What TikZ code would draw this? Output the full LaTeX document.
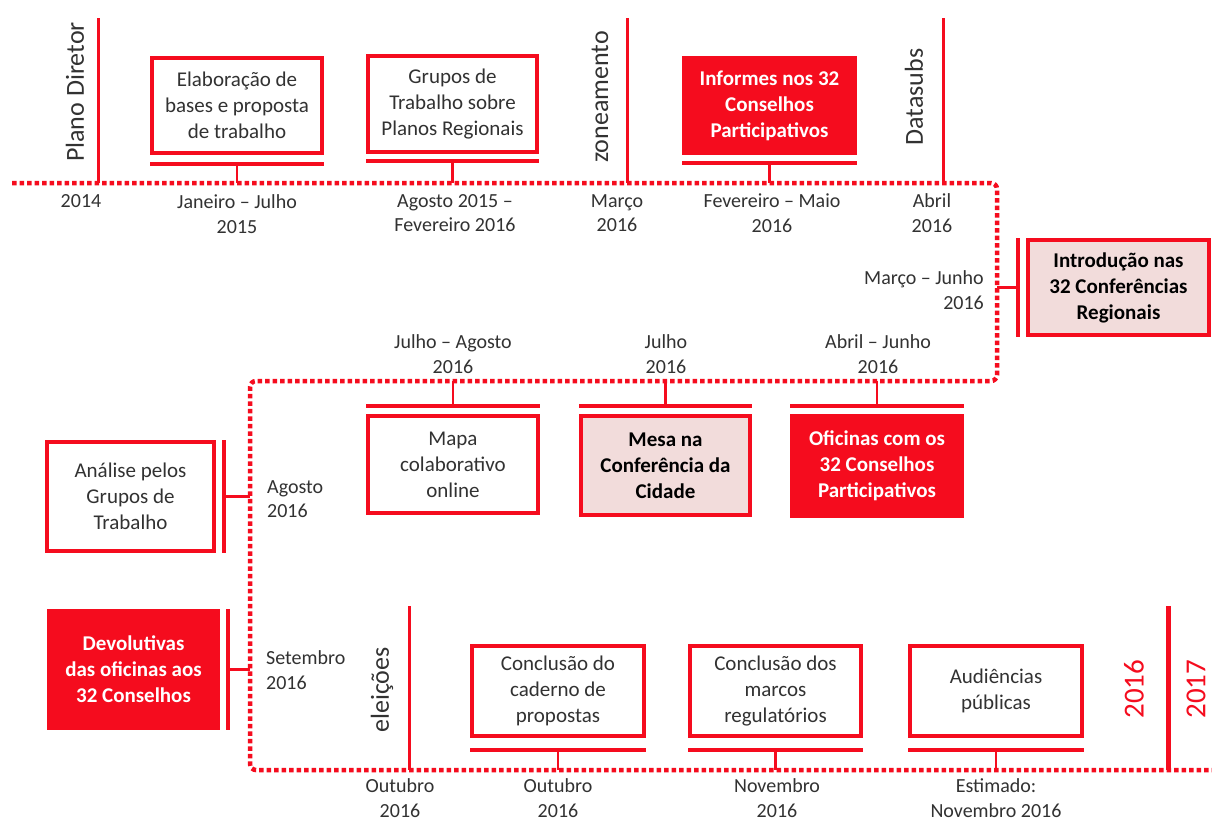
\documentclass[tikz,border=0pt]{standalone}
\usepackage{fontspec}
\setmainfont{Carlito}
\definecolor{tlred}{RGB}{245,12,30}
\definecolor{tlpink}{RGB}{242,220,219}
\definecolor{tlgray}{RGB}{50,50,50}
\usetikzlibrary{positioning,calc}

\begin{document}
\begin{tikzpicture}[x=1pt,y=-1pt,
  box/.style={draw=tlred,line width=3.5pt,minimum width=170pt,minimum height=95pt,inner sep=0pt,
    align=center,text=tlgray,font=\fontsize{21}{26}\selectfont},
  redbox/.style={box,fill=tlred,text=white,font=\fontsize{21}{26}\selectfont\bfseries},
  pinkbox/.style={box,fill=tlpink,text=black,font=\fontsize{21}{26}\selectfont\bfseries},
  datelbl/.style={align=center,text=tlgray,inner sep=0pt,font=\fontsize{20}{24.5}\selectfont},
  vlabel/.style={rotate=90,inner sep=0pt,text=tlgray,font=\fontsize{26}{30}\selectfont},
  yrlbl/.style={rotate=90,inner sep=0pt,text=tlred,font=\fontsize{29}{32}\selectfont},
  timeline/.style={draw=tlred,line width=4.5pt,dash pattern=on 4.5pt off 3pt,rounded corners=6pt},
  evline/.style={draw=tlred,line width=3pt},
  barline/.style={draw=tlred,line width=4pt},
  stemline/.style={draw=tlred,line width=2.2pt}]
  \useasboundingbox[fill=white] (0,0) rectangle (1212,820);

  % dotted time axis
  \coordinate (tlstart) at (12,183);
  \coordinate (tlturnA) at (997,183);
  \coordinate (tlturnB) at (997,381);
  \coordinate (tlturnC) at (250,381);
  \coordinate (tlturnD) at (250,770);
  \coordinate (tlend) at (1214,770);
  \draw[timeline] (tlstart) -- (tlturnA) -- (tlturnB) -- (tlturnC) -- (tlturnD) -- (tlend);

  % top row
  \coordinate (plano) at (98,18);
  \draw[evline] (plano) -- (plano |- tlstart);
  \node[vlabel] (planolbl) at (75,92) {Plano Diretor};
  \node[datelbl] (d2014) at (81,201) {2014};

  \node[box] (bases) at (237,105.5) {Elaboração de\\bases e proposta\\de trabalho};
  \draw[barline] ([yshift=-9pt]bases.south west) -- ([yshift=-9pt]bases.south east);
  \draw[stemline] ([yshift=-9pt]bases.south) -- (bases.south |- tlstart);
  \node[datelbl] (djan) at (bases.south |- 0,214) {Janeiro -- Julho\\2015};

  \node[box,minimum width=169pt,minimum height=96pt] (grupos) at (452.5,104) {Grupos de\\Trabalho sobre\\Planos Regionais};
  \draw[barline] ([yshift=-7pt]grupos.south west) -- ([yshift=-7pt]grupos.south east);
  \draw[stemline] ([yshift=-7pt]grupos.south) -- (grupos.south |- tlstart);
  \node[datelbl] (dago) at (455,213) {Agosto 2015 --\\Fevereiro 2016};

  \coordinate (zone) at (627,18);
  \draw[evline] (zone) -- (zone |- tlstart);
  \node[vlabel] (zonelbl) at (600,97) {zoneamento};
  \node[datelbl] (dmar) at (617,213) {Março\\2016};

  \node[redbox,minimum width=171pt] (informes) at (769.5,105.5) {Informes nos 32\\Conselhos\\Participativos};
  \draw[barline] ([yshift=-8pt]informes.south west) -- ([yshift=-8pt]informes.south east);
  \draw[stemline] ([yshift=-8pt]informes.south) -- (informes.south |- tlstart);
  \node[datelbl] (dfev) at (772,213) {Fevereiro -- Maio\\2016};

  \coordinate (datas) at (943,18);
  \draw[evline] (datas) -- (datas |- tlstart);
  \node[vlabel] (dataslbl) at (914,97) {Datasubs};
  \node[datelbl] (dabr) at (932,213) {Abril\\2016};

  % right side
  \node[pinkbox,minimum width=181pt] (intro) at (1118.5,287.5) {Introdução nas\\32 Conferências\\Regionais};
  \draw[barline] ([xshift=-8pt]intro.north west) -- ([xshift=-8pt]intro.south west);
  \draw[stemline] ([xshift=-8pt]intro.west) -- (intro.west -| tlturnA);
  \node[datelbl,align=right,anchor=east] (dmarjun) at (984,290) {Março -- Junho\\2016};

  % middle row
  \node[box,minimum height=97pt] (mapa) at (453,464.5) {Mapa\\colaborativo\\online};
  \draw[barline] ([yshift=8pt]mapa.north west) -- ([yshift=8pt]mapa.north east);
  \draw[stemline] ([yshift=8pt]mapa.north) -- (mapa.north |- tlturnB);
  \node[datelbl] (djulago) at (453,354) {Julho -- Agosto\\2016};

  \node[pinkbox,minimum width=169pt,minimum height=99pt] (mesa) at (665.5,465.5) {Mesa na\\Conferência da\\Cidade};
  \draw[barline] ([yshift=8pt]mesa.north west) -- ([yshift=8pt]mesa.north east);
  \draw[stemline] ([yshift=8pt]mesa.north) -- (mesa.north |- tlturnB);
  \node[datelbl] (djul) at (666,354) {Julho\\2016};

  \node[redbox,minimum height=100pt] (oficinas) at (877,466) {Oficinas com os\\32 Conselhos\\Participativos};
  \draw[barline] ([yshift=8pt]oficinas.north west) -- ([yshift=8pt]oficinas.north east);
  \draw[stemline] ([yshift=8pt]oficinas.north) -- (oficinas.north |- tlturnB);
  \node[datelbl] (dabrjun) at (878,354) {Abril -- Junho\\2016};

  % left side
  \node[box,minimum width=167pt,minimum height=109pt] (analise) at (130.5,496.5) {Análise pelos\\Grupos de\\Trabalho};
  \draw[barline] ([xshift=8pt]analise.north east) -- ([xshift=8pt]analise.south east);
  \draw[stemline] ([xshift=8pt]analise.east) -- (analise.east -| tlturnC);
  \node[datelbl,align=left,anchor=west] (dagosto) at (267,499) {Agosto\\2016};

  \node[redbox,minimum width=169pt,minimum height=117pt] (devol) at (133.5,669.5) {Devolutivas\\das oficinas aos\\32 Conselhos};
  \draw[barline] ([xshift=8pt]devol.north east) -- ([xshift=8pt]devol.south east);
  \draw[stemline] ([xshift=8pt]devol.east) -- (devol.east -| tlturnC);
  \node[datelbl,align=left,anchor=west] (dset) at (266,670) {Setembro\\2016};

  % bottom row
  \coordinate (elei) at (409,606);
  \draw[evline] (elei) -- (elei |- tlend);
  \node[vlabel] (eleilbl) at (382,690) {eleições};
  \node[datelbl] (dout) at (400,798) {Outubro\\2016};

  \node[box,minimum width=172pt,minimum height=90pt] (caderno) at (558,691) {Conclusão do\\caderno de\\propostas};
  \draw[barline] ([yshift=-12pt]caderno.south west) -- ([yshift=-12pt]caderno.south east);
  \draw[stemline] ([yshift=-12pt]caderno.south) -- (caderno.south |- tlend);
  \node[datelbl] (dout2) at (558,798) {Outubro\\2016};

  \node[box,minimum width=171pt,minimum height=90pt] (marcos) at (775.5,691) {Conclusão dos\\marcos\\regulatórios};
  \draw[barline] ([yshift=-12pt]marcos.south west) -- ([yshift=-12pt]marcos.south east);
  \draw[stemline] ([yshift=-12pt]marcos.south) -- (marcos.south |- tlend);
  \node[datelbl] (dnov) at (777,798) {Novembro\\2016};

  \node[box,minimum width=172pt,minimum height=90pt] (audi) at (996,691) {Audiências\\públicas};
  \draw[barline] ([yshift=-12pt]audi.south west) -- ([yshift=-12pt]audi.south east);
  \draw[stemline] ([yshift=-12pt]audi.south) -- (audi.south |- tlend);
  \node[datelbl] (dest) at (996,798) {Estimado:\\Novembro 2016};

  % year divider
  \coordinate (yrtop) at (1168,606);
  \draw[evline,line width=5pt] (yrtop) -- (yrtop |- tlend);
  \node[yrlbl] (y2016) at (1134,689) {2016};
  \node[yrlbl] (y2017) at (1196,689) {2017};
\end{tikzpicture}
\end{document}
